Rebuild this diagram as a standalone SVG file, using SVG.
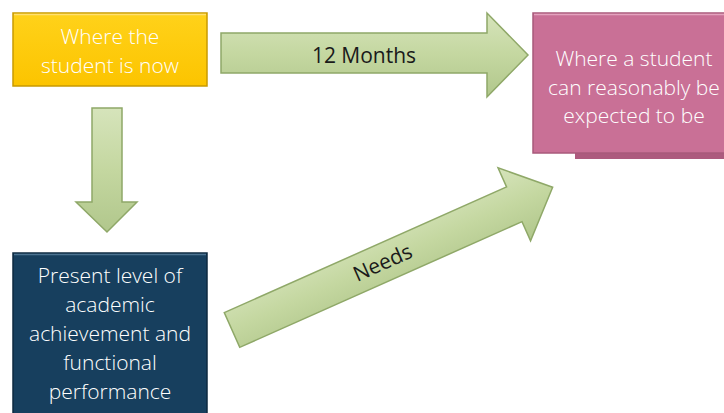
<svg xmlns="http://www.w3.org/2000/svg" width="724" height="413" viewBox="0 0 724 413">
<style>
.box{stroke-width:1.5}
.t{font-family:"Open Sans","Noto Sans",sans-serif;font-size:21px;text-anchor:middle}
.w{fill:#ffffff;font-weight:300}
.k{fill:#1a1a1a}
.arr{fill:url(#g);stroke:#8fa868;stroke-width:1.5;stroke-linejoin:miter}
</style>
<defs>
<linearGradient id="g" x1="0" y1="0" x2="0" y2="1">
<stop offset="0" stop-color="#d6e4bb"/>
<stop offset="0.5" stop-color="#c4d7a0"/>
<stop offset="1" stop-color="#b1c78c"/>
</linearGradient>
<linearGradient id="gy" x1="0" y1="0" x2="0" y2="1">
<stop offset="0" stop-color="#ffd21a"/>
<stop offset="1" stop-color="#fcc400"/>
</linearGradient>
</defs>
<g id="connectors">
<path class="arr" d="M221,33 H487 V13 L528,55 L487,97 V73 H221 Z"/>
<path class="arr" d="M92,108 H122 V202 H137 L107,232 L76,202 H92 Z"/>
<path class="arr" transform="translate(232,330) rotate(-24)" d="M0,-19 H309 V-40 L351,0 L309,40 V19 H0 Z"/>
<text class="t k" x="364" y="63">12 Months</text>
<text class="t k" transform="translate(232,330) rotate(-24)" x="165" y="7">Needs</text>
</g>
<g id="node-now">
<rect class="box" x="13" y="13" width="194" height="73" fill="url(#gy)" stroke="#c99a00"/>
<line x1="14" y1="14.5" x2="206" y2="14.5" stroke="#ffe070" stroke-width="1.5"/>
<text class="t w" x="110" y="44">Where the</text>
<text class="t w" x="110" y="73">student is now</text>
</g>
<g id="node-expected">
<rect x="575" y="17" width="160" height="142" fill="#ad5a7e"/>
<rect class="box" x="533" y="13" width="200" height="140" fill="#c97096" stroke="#a85a7b"/>
<line x1="534" y1="14.5" x2="724" y2="14.5" stroke="#e3a3be" stroke-width="1.5"/>
<text class="t w" x="634" y="66">Where a student</text>
<text class="t w" x="634" y="95">can reasonably be</text>
<text class="t w" x="634" y="123">expected to be</text>
</g>
<g id="node-present">
<rect class="box" x="13" y="253" width="194" height="170" fill="#173f5e" stroke="#0e2a40"/>
<line x1="14" y1="254.5" x2="206" y2="254.5" stroke="#4c7391" stroke-width="1.5"/>
<text class="t w" x="110" y="283">Present level of</text>
<text class="t w" x="110" y="312">academic</text>
<text class="t w" x="110" y="341">achievement and</text>
<text class="t w" x="110" y="370">functional</text>
<text class="t w" x="110" y="399">performance</text>
</g>
</svg>
